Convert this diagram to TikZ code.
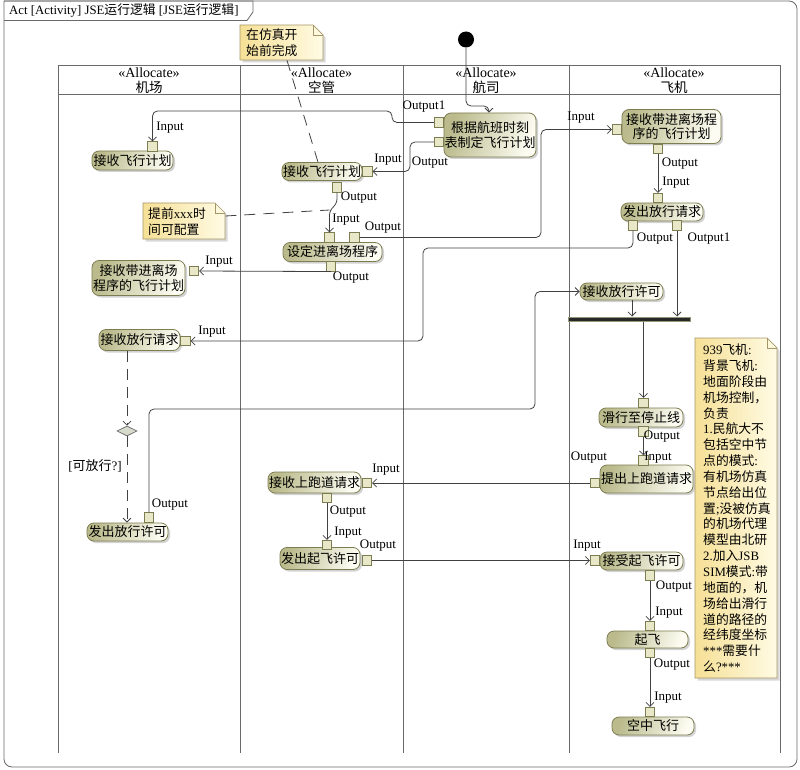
\documentclass[tikz,border=0pt]{standalone}
\usepackage{fontspec}
\setmainfont{Liberation Serif}
\newfontfamily\cjk{Noto Sans CJK SC}
\usetikzlibrary{arrows.meta,shadows,shapes.geometric,calc}
\definecolor{actd}{RGB}{186,186,140}
\definecolor{actl}{RGB}{252,252,242}
\definecolor{actb}{RGB}{125,125,82}
\definecolor{pinf}{RGB}{232,232,200}
\definecolor{notel}{RGB}{255,251,228}
\definecolor{noted}{RGB}{246,224,150}
\definecolor{noteb}{RGB}{165,150,105}
\definecolor{lanec}{RGB}{105,105,105}
\definecolor{flowc}{RGB}{65,65,65}
\definecolor{decf}{RGB}{214,219,204}
\newcommand\lt[1]{{\rmfamily #1}}
\tikzset{
  act/.style={draw=actb, line width=0.8pt, rounded corners=7pt, left color=actd, right color=actl, shading angle=70,
    drop shadow={shadow xshift=2pt, shadow yshift=-2pt, fill=black!35},
    font=\cjk\fontsize{13}{14.5}\selectfont, align=center, inner sep=0pt},
  pinbox/.style={draw=actb, fill=pinf, line width=0.6pt, minimum size=9.5pt, inner sep=0pt},
  flow/.style={draw=flowc, line width=0.8pt, -{Straight Barb[length=4pt,width=8pt]}, rounded corners=5pt},
  dflow/.style={flow, dash pattern=on 11pt off 7pt},
  lbl/.style={font=\fontsize{13}{14}\selectfont, inner sep=0pt},
  notelink/.style={draw=flowc, line width=0.8pt, dash pattern=on 11pt off 8pt},
  lanel/.style={draw=lanec, line width=0.8pt},
  framec/.style={draw=lanec, line width=0.8pt},
  notefill/.style={draw=noteb, line width=0.7pt, left color=noted, right color=notel,
    drop shadow={shadow xshift=2.5pt, shadow yshift=-2.5pt, fill=black!30}},
  notetext/.style={font=\cjk\fontsize{12.8}{15.85}\selectfont, align=left, inner xsep=6pt, inner ysep=0pt, anchor=north west},
  hdr/.style={font=\fontsize{14}{15}\selectfont, inner sep=0pt},
  hdrc/.style={font=\cjk\fontsize{13.5}{15}\selectfont, inner sep=0pt},
}
\begin{document}
\begin{tikzpicture}[x=1pt,y=-1pt, font=\fontsize{13}{15}\selectfont]
\useasboundingbox (0,0) rectangle (800,770);

% frame
\draw[framec, rounded corners=8pt] (4,1) -- (4,767) -- (797,767) -- (797,1) -- (4,1);
\draw[framec] (4,1) -- (253,1) -- (253,12) -- (247,20.5) -- (4,20.5);
\node[anchor=west, inner sep=0pt, font=\fontsize{12.8}{15}\selectfont] (title) at (9,11) {Act [Activity] JSE{\cjk 运行逻辑} [JSE{\cjk 运行逻辑}]};

% swimlanes
\draw[lanel] (58,753) -- (58,65) -- (780,65) -- (780,753);
\draw[lanel] (58,94) -- (780,94);
\draw[lanel] (240,65) -- (240,753);
\draw[lanel] (403,65) -- (403,753);
\draw[lanel] (569,65) -- (569,753);
\node[hdr] (h1a) at (149,73) {«Allocate»};
\node[hdrc] (h1b) at (149,87) {机场};
\node[hdr] (h2a) at (321.5,73) {«Allocate»};
\node[hdrc] (h2b) at (321.5,87) {空管};
\node[hdr] (h3a) at (486,73) {«Allocate»};
\node[hdrc] (h3b) at (486,87) {航司};
\node[hdr] (h4a) at (674,73) {«Allocate»};
\node[hdrc] (h4b) at (674,87) {飞机};

% initial node
\node[circle, fill=black, minimum size=16pt, inner sep=0pt] (init) at (466,39.5) {};

% actions
\node[act, minimum width=92pt, minimum height=44pt] (A1) at (490,135) {根据航班时刻\\表制定飞行计划};
\node[act, minimum width=81pt, minimum height=19pt] (A2) at (132.5,160.5) {接收飞行计划};
\node[act, minimum width=80pt, minimum height=18pt] (A3) at (322,171.5) {接收飞行计划};
\node[act, minimum width=99pt, minimum height=19pt] (A4) at (332.5,252) {设定进离场程序};
\node[act, minimum width=99pt, minimum height=34pt] (A5) at (671.5,126.5) {接收带进离场程\\序的飞行计划};
\node[act, minimum width=82pt, minimum height=18pt] (A6) at (662,212) {发出放行请求};
\node[act, minimum width=93pt, minimum height=35pt] (A7) at (138.5,278) {接收带进离场\\程序的飞行计划};
\node[act, minimum width=81pt, minimum height=21pt] (A8) at (139.5,340) {接收放行请求};
\node[act, minimum width=81pt, minimum height=18pt] (A9) at (127.5,532) {发出放行许可};
\node[act, minimum width=83pt, minimum height=17pt] (A10) at (621.5,291.5) {接收放行许可};
\node[act, minimum width=84pt, minimum height=19pt] (A11) at (641,417.5) {滑行至停止线};
\node[act, minimum width=93pt, minimum height=28pt] (A12) at (646.5,479) {提出上跑道请求};
\node[act, minimum width=93pt, minimum height=21pt] (A13) at (314.5,482.5) {接收上跑道请求};
\node[act, minimum width=80pt, minimum height=22pt] (A14) at (320,558.5) {发出起飞许可};
\node[act, minimum width=83pt, minimum height=18pt] (A15) at (641.5,561) {接受起飞许可};
\node[act, minimum width=81pt, minimum height=17pt] (A16) at (647.5,639.5) {起飞};
\node[act, minimum width=82pt, minimum height=18pt] (A17) at (653,726) {空中飞行};

% pins
\node[pinbox] (P1a) at (439,122.5) {};
\node[pinbox] (P1b) at (439,142) {};
\node[pinbox] (P2in) at (152.5,146.5) {};
\node[pinbox] (P3in) at (367.5,171.5) {};
\node[pinbox] (P3out) at (337,187.5) {};
\node[pinbox] (P4in) at (329.5,237.5) {};
\node[pinbox] (P4o1) at (354.5,237.5) {};
\node[pinbox] (P4out) at (331,266.5) {};
\node[pinbox] (P5in) at (617,129.5) {};
\node[pinbox] (P5out) at (658,149) {};
\node[pinbox] (P6in) at (658,198) {};
\node[pinbox] (P6out) at (633,225.5) {};
\node[pinbox] (P6o1) at (677,225.5) {};
\node[pinbox] (P7in) at (194,271) {};
\node[pinbox] (P8in) at (185.5,341) {};
\node[pinbox] (P9out) at (149,517.5) {};
\node[pinbox] (P11in) at (643.5,403) {};
\node[pinbox] (P11out) at (643.5,431.5) {};
\node[pinbox] (P12in) at (643.5,460.5) {};
\node[pinbox] (P12out) at (595,483) {};
\node[pinbox] (P13in) at (367,483) {};
\node[pinbox] (P13out) at (327,498) {};
\node[pinbox] (P14in) at (327,545) {};
\node[pinbox] (P14out) at (367,560.5) {};
\node[pinbox] (P15in) at (595,560.5) {};
\node[pinbox] (P15out) at (650,575.5) {};
\node[pinbox] (P16in) at (650,626) {};
\node[pinbox] (P16out) at (650,653) {};
\node[pinbox] (P17in) at (650,712) {};

% fork and decision
\node[draw={rgb,255:red,150;green,150;blue,120}, fill={rgb,255:red,40;green,40;blue,40}, line width=1pt,
      minimum width=122pt, minimum height=4pt, inner sep=0pt] (fork) at (629,319) {};
\node[diamond, aspect=2, draw=lanec, fill=decf, line width=0.7pt, minimum width=20pt, minimum height=10pt, inner sep=0pt] (dec) at (127,431) {};

% helper coordinates
\coordinate (c1) at (489,106);
\coordinate (c2) at (392,111);
\coordinate (c3) at (410,155);
\coordinate (c4a) at (337,204);
\coordinate (c4b) at (329.5,210);
\coordinate (c5) at (541,200);
\coordinate (c7) at (423,248);
\coordinate (c9) at (632,300);
\coordinate (c17) at (535,409);

% flows
\draw[flow] (init) |- (c1) -- (A1.north -| c1);
\draw[flow] (P1a.west) -| (c2) -| (P2in.north);
\draw[flow] (P1b.west) -| (c3) |- (P3in.east);
\draw[flow] (P3out.south) -- (c4a) -- (c4b) -- (P4in.north);
\draw[flow] (P4o1.east) -| (c5) |- (P5in.west);
\draw[flow] (P4out.south) -- (P7in.east);
\draw[flow] (P5out.south) -- (P6in.north);
\draw[flow] (P6out.south) |- (c7) |- (P8in.east);
\draw[flow] (P6o1.south) -- (P6o1.south |- fork.north);
\draw[flow] (A10.south -| c9) -- (fork.north -| c9);
\draw[flow] (fork.south -| P11in) -- (P11in.north);
\draw[flow] (P11out.south) -- (P12in.north);
\draw[flow] (P12out.west) -- (P13in.east);
\draw[flow] (P13out.south) -- (P14in.north);
\draw[flow] (P14out.east) -- (P15in.west);
\draw[flow] (P15out.south) -- (P16in.north);
\draw[flow] (P16out.south) -- (P17in.north);
\draw[flow] (P9out.north) |- (c17) |- (A10.west);
\draw[dflow] (A8.south -| dec) -- (dec.north);
\draw[dflow] (dec.south) -- (A9.north -| dec);

% pin labels
\node[lbl] (l1) at (424,107) {Output1};
\node[lbl] (l2) at (430,163) {Output};
\node[lbl] (l3) at (170,128) {Input};
\node[lbl] (l4) at (388,160) {Input};
\node[lbl] (l5) at (359,198) {Output};
\node[lbl] (l6) at (346,220) {Input};
\node[lbl] (l7) at (383,228) {Output};
\node[lbl] (l8) at (351,278) {Output};
\node[lbl] (l9) at (219,262) {Input};
\node[lbl] (l10) at (581,118) {Input};
\node[lbl] (l11) at (680,164) {Output};
\node[lbl] (l12) at (676,183) {Input};
\node[lbl] (l13) at (655,239) {Output};
\node[lbl] (l14) at (709,239) {Output1};
\node[lbl] (l15) at (212,332) {Input};
\node[lbl] (l16) at (170,505) {Output};
\node[lbl] (l17) at (95,466) {[{\cjk 可放行}?]};
\node[lbl] (l18) at (662,437) {Output};
\node[lbl] (l19) at (658,458) {Input};
\node[lbl] (l20) at (589,458) {Output};
\node[lbl] (l21) at (386,470) {Input};
\node[lbl] (l22) at (348,512) {Output};
\node[lbl] (l23) at (348,533) {Input};
\node[lbl] (l24) at (378,546) {Output};
\node[lbl] (l25) at (587,546) {Input};
\node[lbl] (l26) at (674,587) {Output};
\node[lbl] (l27) at (669,613) {Input};
\node[lbl] (l28) at (672,665) {Output};
\node[lbl] (l29) at (668,698) {Input};

% notes (outlines)
\path[notefill] (240,25) -- (313,25) -- (323,35) -- (323,60) -- (240,60) -- cycle;
\draw[draw=noteb, line width=0.7pt] (313,25) -- (313,35) -- (323,35);
\path[notefill] (143,203) -- (215,203) -- (225,213) -- (225,239) -- (143,239) -- cycle;
\draw[draw=noteb, line width=0.7pt] (215,203) -- (215,213) -- (225,213);
\path[notefill] (695,338) -- (767,338) -- (777,348) -- (777,678) -- (695,678) -- cycle;
\draw[draw=noteb, line width=0.7pt] (767,338) -- (767,348) -- (777,348);

% note texts
\node[notetext, minimum width=83pt, minimum height=35pt, text width=71pt] (N1) at (240,25) {在仿真开\\始前完成};
\node[notetext, inner xsep=5pt, minimum width=82pt, minimum height=36pt, text width=72pt] (N2) at (143,203) {提前\lt{xxx}时\\间可配置};
\node[notetext, inner xsep=8pt, minimum width=82pt, minimum height=340pt, text width=70pt] (N3) at (695,338) {%
\lt{939}飞机\lt{:}\\
背景飞机\lt{:}\\
地面阶段由\\
机场控制，\\
负责\\
\lt{1.}民航大不\\
包括空中节\\
点的模式\lt{:}\\
有机场仿真\\
节点给出位\\
置\lt{;}没被仿真\\
的机场代理\\
模型由北研\\
\lt{2.}加入\lt{JSB}\\
\lt{SIM}模式\lt{:}带\\
地面的，机\\
场给出滑行\\
道的路径的\\
经纬度坐标\\
\lt{***}需要什\\
么\lt{?***}};

% note links
\coordinate (n1e) at (318,0);
\coordinate (n1s) at (287,0);
\draw[notelink] (N1.south -| n1s) -- (A3.north -| n1e);
\coordinate (n2s) at (0,216);
\draw[notelink] (N2.east |- n2s) -- (c4b);
\end{tikzpicture}
\end{document}
